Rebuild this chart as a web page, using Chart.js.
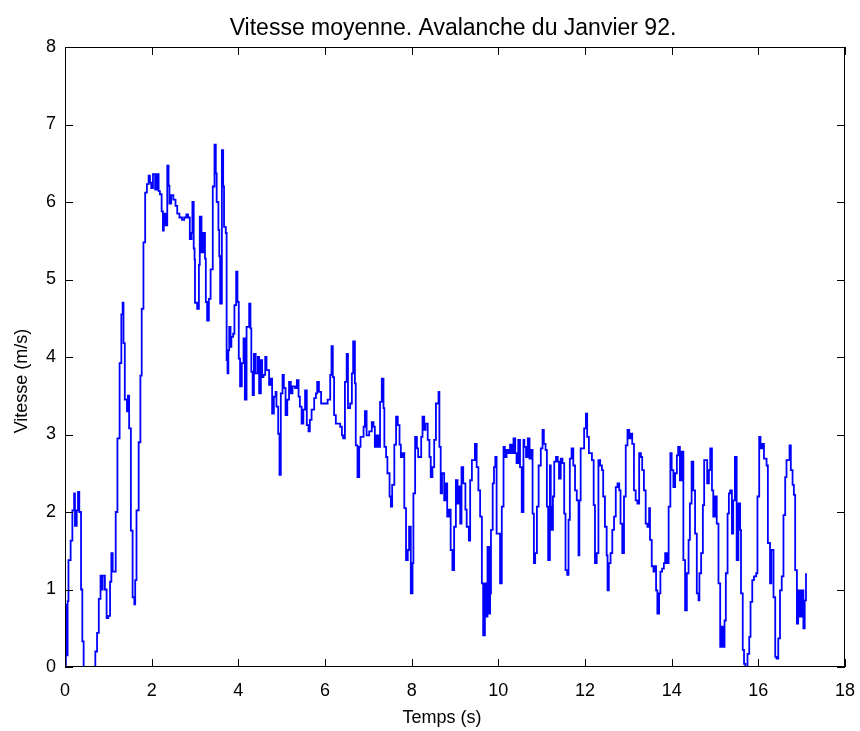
<!DOCTYPE html>
<html>
<head>
<meta charset="utf-8">
<script src="https://cdn.jsdelivr.net/npm/chart.js@4"></script>
<style>
  html, body { margin: 0; padding: 0; background: #fff; }
  #wrap { width: 860px; height: 731px; }
</style>
</head>
<body>
<div id="wrap"><canvas id="chart" width="860" height="731"></canvas></div>
<script>
// temps (s) et vitesse (m/s)
const times = [
  0, 0.02, 0.04, 0.06, 0.08, 0.13, 0.17, 0.21, 0.23, 0.27, 0.30, 0.33, 0.37, 0.40, 0.43, 0.68, 0.70, 0.74, 0.78, 0.82,
  0.85, 0.87, 0.92, 0.96, 1.00, 1.04, 1.07, 1.10, 1.13, 1.17, 1.21, 1.26, 1.30, 1.33, 1.35, 1.38, 1.43, 1.45, 1.48, 1.52,
  1.56, 1.60, 1.62, 1.65, 1.70, 1.74, 1.77, 1.81, 1.85, 1.89, 1.93, 1.96, 1.99, 2.03, 2.08, 2.12, 2.16, 2.19, 2.23, 2.26,
  2.28, 2.32, 2.36, 2.39, 2.41, 2.45, 2.50, 2.55, 2.59, 2.64, 2.70, 2.75, 2.80, 2.84, 2.88, 2.92, 2.94, 2.97, 2.99, 3.00,
  3.05, 3.09, 3.11, 3.15, 3.19, 3.23, 3.25, 3.28, 3.32, 3.36,
  3.41, 3.45, 3.48, 3.50, 3.54, 3.56, 3.58, 3.62, 3.65, 3.67, 3.71, 3.73, 3.75, 3.77, 3.79, 3.82, 3.84, 3.88, 3.91, 3.95,
  3.98, 4.01, 4.04, 4.08, 4.12, 4.15, 4.19, 4.25, 4.28, 4.30, 4.33, 4.36, 4.40, 4.45, 4.48, 4.52, 4.55, 4.58, 4.62, 4.65,
  4.71, 4.75, 4.78, 4.82, 4.86, 4.88, 4.92, 4.95, 4.98, 5.02, 5.05, 5.09, 5.13, 5.17, 5.21, 5.25, 5.31, 5.35, 5.39, 5.42,
  5.46, 5.50, 5.54, 5.58, 5.62, 5.65, 5.69, 5.75, 5.79, 5.82, 5.86, 5.91, 5.96, 6.02, 6.06, 6.12, 6.15, 6.18, 6.21, 6.25,
  6.30, 6.35, 6.39, 6.42, 6.46, 6.50, 6.53, 6.58, 6.62, 6.65, 6.69, 6.71, 6.75, 6.79, 6.82, 6.89, 6.92, 6.96, 7.02,
  7.08, 7.12, 7.15, 7.19, 7.23, 7.27, 7.31, 7.35, 7.37, 7.41, 7.44, 7.49, 7.52, 7.55, 7.60, 7.64, 7.68, 7.72, 7.75, 7.79,
  7.83, 7.87, 7.91, 7.94, 7.98, 8.02, 8.04, 8.08, 8.12, 8.15, 8.22, 8.25, 8.29, 8.32, 8.37, 8.41, 8.44, 8.48, 8.52, 8.56,
  8.62, 8.64, 8.67, 8.70, 8.75, 8.79, 8.82, 8.86, 8.90, 8.94, 8.98, 9.02, 9.06, 9.09, 9.12, 9.15, 9.19, 9.24, 9.27, 9.32,
  9.35, 9.39, 9.42, 9.46, 9.50, 9.54, 9.58, 9.62, 9.65, 9.69, 9.72, 9.75, 9.79, 9.81, 9.83, 9.87, 9.90, 9.93, 9.96, 10.00,
  10.04, 10.08, 10.12, 10.15, 10.19, 10.23, 10.27, 10.31, 10.35, 10.39, 10.42, 10.46, 10.50, 10.54, 10.58,
  10.60, 10.64, 10.68, 10.72, 10.75, 10.79, 10.82, 10.85, 10.89, 10.93, 10.98, 11.02, 11.05, 11.09, 11.12, 11.15, 11.19, 11.21, 11.23, 11.26,
  11.29, 11.33, 11.37, 11.40, 11.44, 11.48, 11.52, 11.55, 11.59, 11.62, 11.65, 11.69, 11.73, 11.77, 11.81, 11.85, 11.87, 11.90, 11.94, 11.98,
  12.02, 12.05, 12.09, 12.12, 12.16, 12.20, 12.23, 12.27, 12.31, 12.35, 12.39, 12.42, 12.46, 12.50, 12.52, 12.55, 12.59, 12.63, 12.67, 12.71,
  12.75, 12.79, 12.82, 12.86, 12.90, 12.94, 12.98, 13.02, 13.05, 13.09, 13.13, 13.17, 13.21, 13.25, 13.29, 13.32, 13.36, 13.40, 13.44, 13.48,
  13.50, 13.54, 13.58, 13.62, 13.64, 13.67, 13.71, 13.74, 13.78, 13.82, 13.85, 13.89, 13.93, 13.97, 14.00, 14.04, 14.08, 14.12, 14.15,
  14.19, 14.23, 14.27, 14.31, 14.35, 14.39, 14.42, 14.46, 14.50, 14.54, 14.58, 14.62, 14.64, 14.68, 14.72, 14.75, 14.82, 14.86, 14.89, 14.93,
  14.96, 15.00, 15.04, 15.08, 15.12, 15.15, 15.19, 15.22, 15.25, 15.29, 15.32, 15.35, 15.39, 15.42, 15.46, 15.50, 15.54, 15.58, 15.60, 15.64,
  15.67, 15.70, 15.75, 15.79, 15.82, 15.86, 15.90, 15.95, 15.98, 16.02, 16.05, 16.09, 16.13, 16.19, 16.22, 16.27, 16.30, 16.35, 16.39, 16.42,
  16.46, 16.50, 16.54, 16.58, 16.62, 16.65, 16.69, 16.72, 16.75, 16.79, 16.82, 16.85, 16.89, 16.92, 16.96, 17.00, 17.04, 17.07, 17.10
];
const speeds = [
  0, 0.80, 0.15, 0.85, 1.38, 1.63, 2.02, 2.24, 1.82, 2.02, 2.26, 2.00, 1.00, 0.33, 0, 0, 0.20, 0.44, 0.88, 1.18,
  1.00, 1.18, 1.00, 0.63, 0.66, 1.10, 1.47, 1.23, 1.23, 2.00, 2.95, 3.92, 4.55, 4.70, 4.18, 3.45, 3.30, 3.50, 3.08, 1.76,
  0.90, 0.81, 1.12, 2.02, 2.90, 3.76, 4.62, 5.48, 6.12, 6.23, 6.34, 6.25, 6.18, 6.36, 6.16, 6.36, 6.14, 6.10, 5.88, 5.63,
  5.85, 5.70, 6.47, 6.21, 5.98, 6.09, 6.03, 5.95, 5.85, 5.80, 5.77, 5.80, 5.84, 5.80, 5.52, 5.60, 6.00, 5.40, 5.26, 4.70,
  4.62, 5.19, 5.81, 5.35, 5.60, 5.27, 4.71, 4.47, 4.75, 5.13,
  6.20, 6.74, 6.37, 6.00, 5.64, 5.30, 4.69, 6.67, 6.20, 5.68, 5.60, 3.96, 3.79, 4.09, 4.39, 4.13, 4.26, 4.30, 4.67, 5.10,
  4.71, 3.98, 3.62, 3.92, 4.24, 3.45, 4.39, 4.69, 4.37, 3.81, 3.51, 4.04, 3.79, 4.00, 3.53, 3.96, 3.74, 3.77, 4.00, 3.83,
  3.64, 3.72, 3.27, 3.49, 3.55, 3.36, 3.01, 2.48, 3.53, 3.77, 3.60, 3.25, 3.45, 3.68, 3.53, 3.62, 3.60, 3.70, 3.49, 3.36,
  3.14, 3.32, 3.57, 3.12, 3.04, 3.19, 3.32, 3.47, 3.53, 3.68, 3.55, 3.40, 3.40, 3.40, 3.45, 3.77, 4.14, 3.74, 3.25, 3.14,
  3.14, 3.10, 2.99, 2.95, 3.68, 4.04, 3.34, 3.40, 3.79, 4.20, 3.66, 2.86, 2.45, 2.84, 2.97, 3.10, 3.30, 2.99, 3.04,
  3.16, 3.10, 2.84, 2.99, 2.84, 3.42, 3.72, 3.34, 2.84, 2.71, 2.50, 2.20, 2.07, 2.35, 2.87, 3.23, 3.12, 2.87, 2.71, 2.76,
  2.05, 1.38, 1.51, 1.81, 0.95, 1.34, 2.24, 2.97, 2.82, 2.71, 2.97, 3.23, 3.06, 3.14, 2.93, 2.71, 2.45, 2.58, 2.93, 3.40,
  3.55, 2.84, 2.24, 2.50, 2.15, 2.37, 1.94, 2.03, 1.51, 1.25, 1.81, 2.41, 2.11, 2.33, 1.85, 2.58, 2.37, 2.03, 1.81, 1.63,
  2.41, 2.67, 2.67, 2.88, 2.58, 2.28, 1.94, 1.08, 0.41, 1.08, 0.65, 1.55, 0.69, 0.95, 1.77, 2.37, 2.58, 2.71, 1.72, 1.72,
  1.08, 2.07, 2.84, 2.71, 2.80, 2.76, 2.87, 2.76, 2.95, 2.76, 2.63, 2.93, 2.58, 2.00, 2.93,
  2.84, 2.71, 2.95, 2.69, 2.80, 1.98, 1.34, 1.47, 2.07, 2.60, 2.82, 3.06, 2.88, 2.80, 2.07, 1.38, 2.60, 2.07, 1.77, 2.20,
  2.65, 2.71, 2.65, 2.43, 2.69, 2.63, 1.98, 1.25, 1.19, 1.90, 2.69, 2.82, 2.60, 2.28, 2.15, 1.44, 2.15, 2.82, 2.82, 3.08,
  3.27, 2.97, 2.76, 2.76, 2.67, 2.09, 1.34, 1.47, 2.67, 2.60, 2.54, 2.20, 1.81, 1.44, 0.99, 1.34, 1.47, 1.77, 1.94, 2.32,
  2.37, 2.28, 1.85, 1.47, 2.20, 2.86, 3.06, 2.95, 3.01, 2.88, 2.28, 2.15, 2.11, 2.76, 2.71, 2.54, 2.28, 1.85, 1.81, 2.05,
  1.64, 1.30, 1.23, 1.30, 0.99, 0.69, 0.95, 1.23, 1.27, 1.34, 1.47, 1.34, 2.07, 2.76, 2.54, 2.32, 2.50, 2.73, 2.84,
  2.41, 2.78, 1.38, 0.73, 1.21, 1.64, 2.11, 2.65, 2.28, 1.72, 0.95, 0.86, 1.21, 1.47, 2.09, 2.67, 2.37, 2.54, 2.82, 2.28,
  1.94, 2.20, 1.85, 1.08, 0.26, 0.52, 0.26, 0.60, 1.21, 1.98, 2.24, 2.28, 1.72, 2.15, 2.71, 1.38, 2.11, 1.77, 0.95, 0.22,
  0.04, 0, 0.17, 0.39, 0.84, 1.12, 1.17, 1.21, 2.20, 2.97, 2.82, 2.88, 2.69, 2.60, 1.60, 1.08, 1.51, 0.90, 0.13, 0.11,
  0.37, 0.99, 1.17, 1.96, 2.45, 2.67, 2.67, 2.86, 2.54, 2.35, 2.22, 1.25, 0.56, 0.99, 0.65, 0.99, 0.50, 0.86, 1.21
];
const xTicks = [0, 2, 4, 6, 8, 10, 12, 14, 16, 18];
const yTicks = [0, 1, 2, 3, 4, 5, 6, 7, 8];

const titleText = 'Vitesse moyenne. Avalanche du Janvier 92.';
const xLabel = 'Temps (s)';
const yLabel = 'Vitesse (m/s)';

const FONT = "'Liberation Sans', Arial, sans-serif";

// cadre noir, graduations vers l'intérieur et textes placés comme sous Matlab
const boxTicks = {
  id: 'boxTicks',
  afterDraw(chart) {
    const { ctx, chartArea: a, scales } = chart;
    const len = 8;
    ctx.save();
    ctx.strokeStyle = '#000';
    ctx.lineWidth = 1;
    ctx.strokeRect(a.left + 0.5, a.top + 0.5, a.right - a.left - 1, a.bottom - a.top - 1);
    ctx.beginPath();
    xTicks.forEach(v => {
      const px = Math.round(scales.x.getPixelForValue(v)) + 0.5;
      ctx.moveTo(px, a.bottom); ctx.lineTo(px, a.bottom - len);
      ctx.moveTo(px, a.top); ctx.lineTo(px, a.top + len);
    });
    yTicks.forEach(v => {
      const py = Math.round(scales.y.getPixelForValue(v)) + 0.5;
      ctx.moveTo(a.left, py); ctx.lineTo(a.left + len, py);
      ctx.moveTo(a.right, py); ctx.lineTo(a.right - len, py);
    });
    ctx.stroke();

    ctx.fillStyle = '#000';
    ctx.textAlign = 'center';
    ctx.textBaseline = 'middle';
    ctx.font = '23px ' + FONT;
    ctx.fillText(titleText, (a.left + a.right) / 2 - 2, 29);
    ctx.font = '18px ' + FONT;
    ctx.fillText(xLabel, (a.left + a.right) / 2 - 13, 718);
    ctx.translate(22, 381);
    ctx.rotate(-Math.PI / 2);
    ctx.fillText(yLabel, 0, 0);
    ctx.restore();
  }
};

const ctx = document.getElementById('chart');

new Chart(ctx, {
  type: 'line',
  data: {
    datasets: [{
      data: times.map((t, i) => ({ x: t, y: speeds[i] })),
      borderColor: '#0000ff',
      borderWidth: 1.8,
      pointRadius: 0,
      stepped: true,
      fill: false
    }]
  },
  options: {
    responsive: false,
    animation: false,
    layout: { padding: { left: 0, right: 15, top: 47, bottom: 0 } },
    plugins: {
      legend: { display: false },
      tooltip: { enabled: false },
      title: { display: false }
    },
    scales: {
      x: {
        type: 'linear',
        min: 0,
        max: 18,
        afterBuildTicks: s => { s.ticks = xTicks.map(v => ({ value: v })); },
        afterFit: s => { s.height = 64; s.paddingLeft = 0; s.paddingRight = 0; },
        grid: { display: false, drawTicks: false },
        border: { display: false },
        ticks: { color: '#000', padding: 13, maxRotation: 0, font: { family: FONT, size: 18 } }
      },
      y: {
        min: 0,
        max: 8,
        afterBuildTicks: s => { s.ticks = yTicks.map(v => ({ value: v })); },
        afterFit: s => { s.width = 65; s.paddingTop = 0; s.paddingBottom = 0; },
        grid: { display: false, drawTicks: false },
        border: { display: false },
        ticks: { color: '#000', padding: 9, font: { family: FONT, size: 18 } }
      }
    }
  },
  plugins: [boxTicks]
});
</script>
</body>
</html>
